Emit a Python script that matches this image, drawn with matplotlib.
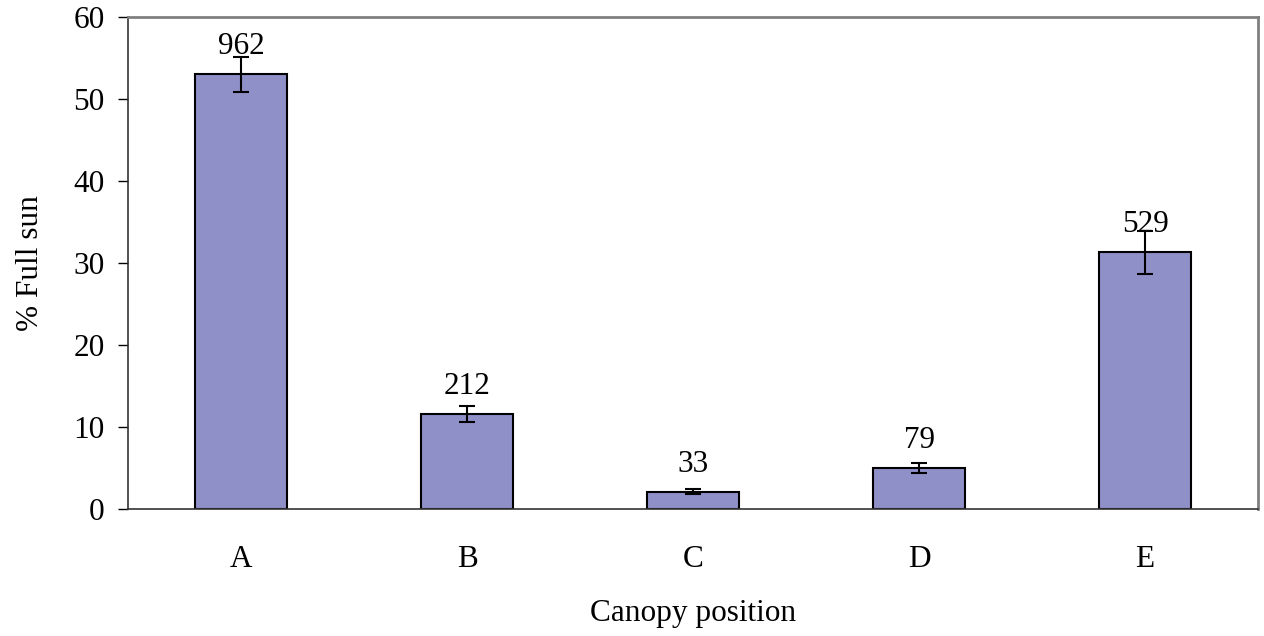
import matplotlib
matplotlib.use("Agg")
import matplotlib.pyplot as plt
import numpy as np

categories = ["A", "B", "C", "D", "E"]
values = [53.0, 11.6, 2.1, 5.0, 31.3]
errors = [2.15, 1.0, 0.3, 0.65, 2.65]
counts = ["962", "212", "33", "79", "529"]
yticks = [0, 10, 20, 30, 40, 50, 60]

plt.rcParams['font.family'] = ['Liberation Serif', 'DejaVu Serif']
FS = 22.5

fig = plt.figure(figsize=(12.64, 6.36), dpi=100)
ax = fig.add_axes([128/1264, 1 - 509/636, (1258-128)/1264, (509-17)/636])

x = np.arange(len(categories))
ax.bar(x, values, width=0.41, color="#9090C8", edgecolor="black", linewidth=1.5, zorder=2)
ax.errorbar(x, values, yerr=errors, fmt="none", ecolor="black", elinewidth=1.5,
            capsize=6, capthick=1.5, zorder=3)

for xi, v, c in zip(x, values, counts):
    ax.annotate(c, (xi, v), xytext=(0, 14.5), textcoords="offset points",
                ha="center", va="baseline", fontsize=FS, zorder=4)

ax.set_xlim(-0.5, len(categories) - 0.5)
ax.set_ylim(0, 60)
ax.set_yticks(yticks)
ax.set_yticklabels([str(t) for t in yticks], fontsize=FS)
ax.set_xticks(x)
ax.set_xticklabels(categories, fontsize=FS)
ax.tick_params(axis="x", length=0, pad=26)
ax.tick_params(axis="y", direction="out", length=7, width=1, pad=10)

for s in ["top", "right"]:
    ax.spines[s].set_color("#808080")
    ax.spines[s].set_linewidth(2)
for s in ["left", "bottom"]:
    ax.spines[s].set_color("#333333")
    ax.spines[s].set_linewidth(1.2)

ax.set_xlabel("Canopy position", fontsize=FS)
ax.set_ylabel("% Full sun", fontsize=FS)
ax.xaxis.set_label_coords((693 - 128) / 1130, (509 - 613) / 492)
ax.yaxis.set_label_coords((30 - 128) / 1130, 0.5)
ax.xaxis.label.set_va("center")
ax.yaxis.label.set_va("center")

fig.savefig("out.png", dpi=100)
